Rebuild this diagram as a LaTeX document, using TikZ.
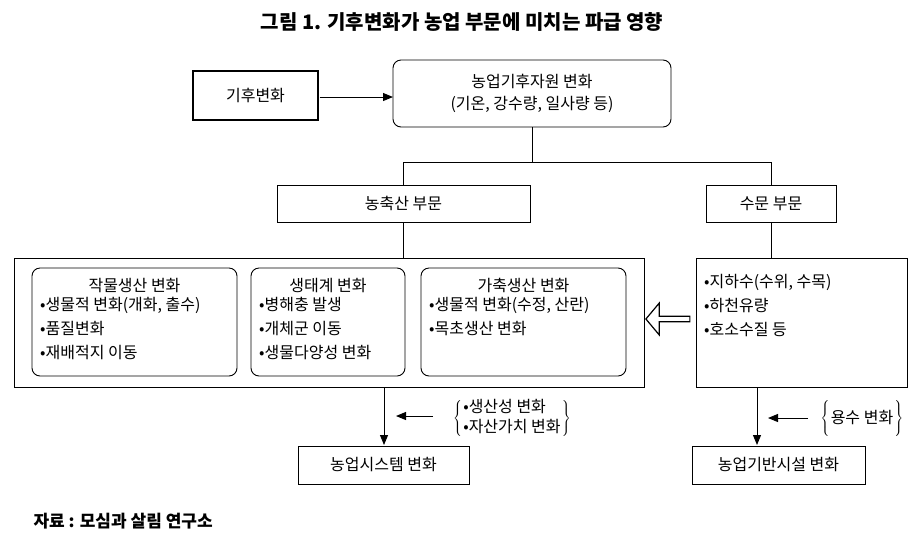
\documentclass[tikz,border=0pt]{standalone}
\usepackage{fontspec}
\setmainfont{Noto Sans CJK KR}
\usetikzlibrary{arrows.meta,shapes.arrows}
\begin{document}
\begin{tikzpicture}[x=1pt,y=-1pt,
  box/.style={draw,line width=0.9pt,inner sep=0pt},
  rbox/.style={draw,line width=0.9pt,rounded corners=8pt},
  ln/.style={line width=0.9pt},
  arr/.style={line width=1pt,-{Triangle[length=10pt,width=8pt]}},
  fs/.style={font=\fontsize{16}{22}\selectfont},
  txt/.style={font=\fontsize{16}{24}\selectfont,align=left,anchor=north west,inner sep=0pt}]
\useasboundingbox (0,0) rectangle (924,550);
\node[font=\fontsize{20}{24}\selectfont\bfseries] (title) at (462,22) {그림 1. 기후변화가 농업 부문에 미치는 파급 영향};
\draw[line width=2.8pt] (193,71) rectangle (318,120);
\node[fs] (kh) at (255.5,95.5) {기후변화};
\coordinate (khr) at (319.5,97);
\draw[rbox] (393,60) rectangle (671,127);
\node[fs,align=center] (nr) at (532,93.5) {농업기후자원 변화\\(기온, 강수량, 일사량 등)};
\coordinate (nrl) at (393,97);
\draw[arr] (khr) -- (nrl);
\draw[box] (277,185) rectangle (530,222);
\node[fs] (nc) at (403.5,203.5) {농축산 부문};
\draw[box] (706,185) rectangle (836,222);
\node[fs] (sm) at (771,203.5) {수문 부문};
\draw[ln] (532,127) -- (532,162);
\draw[ln] (403,185) -- (403,162) -- (771,162) -- (771,185);
\draw[box] (14,258) rectangle (644,387);
\draw[ln] (403,222) -- (403,258);
\draw[rbox] (32,268) rectangle (237,376);
\draw[rbox] (251,268) rectangle (405,376);
\draw[rbox] (421,268) rectangle (626,376);
\node[fs] (t1) at (134.5,285) {작물생산 변화};
\node[txt] (b1) at (40,297) {•생물적 변화(개화, 출수)\\•품질변화\\•재배적지 이동};
\node[fs] (t2) at (328,285) {생태계 변화};
\node[txt] (b2) at (259,297) {•병해충 발생\\•개체군 이동\\•생물다양성 변화};
\node[fs] (t3) at (523.5,285) {가축생산 변화};
\node[txt] (b3) at (429,297) {•생물적 변화(수정, 산란)\\•목초생산 변화};
\draw[box] (696,258) rectangle (907,387);
\draw[ln] (771,222) -- (771,258);
\node[txt] (b4) at (704,274) {•지하수(수위, 수목)\\•하천유량\\•호소수질 등};
\node[draw,line width=1.2pt,single arrow,shape border rotate=180,minimum height=44pt,minimum width=32pt,single arrow head extend=3pt,single arrow tip angle=100,inner sep=0pt] (ha) at (669,319) {};
\draw[box] (298,446) rectangle (469,484);
\node[fs] (ns) at (383.5,465) {농업시스템 변화};
\draw[box] (692,446) rectangle (865,484);
\node[fs] (ng) at (778.5,465) {농업기반시설 변화};
\draw[arr] (384,387) -- (384,445);
\draw[arr] (757,387) -- (757,445);
\draw[arr] (433,416) -- (396,416);
\node[fs,align=left] (l1) at (512,418) {$\left\{\vphantom{\rule{0pt}{24pt}}\right.$\begin{tabular}{@{}l@{}}•생산성 변화\\[-2pt]•자산가치 변화\end{tabular}$\left.\vphantom{\rule{0pt}{24pt}}\right\}$};
\draw[arr] (808,418) -- (768,418);
\node[fs] (l2) at (862,418) {$\left\{\vphantom{\rule{0pt}{24pt}}\right.$용수 변화$\left.\vphantom{\rule{0pt}{24pt}}\right\}$};
\node[font=\fontsize{17}{20}\selectfont\bfseries,anchor=west] (src) at (30,521) {자료 : 모심과 살림 연구소};
\end{tikzpicture}
\end{document}
